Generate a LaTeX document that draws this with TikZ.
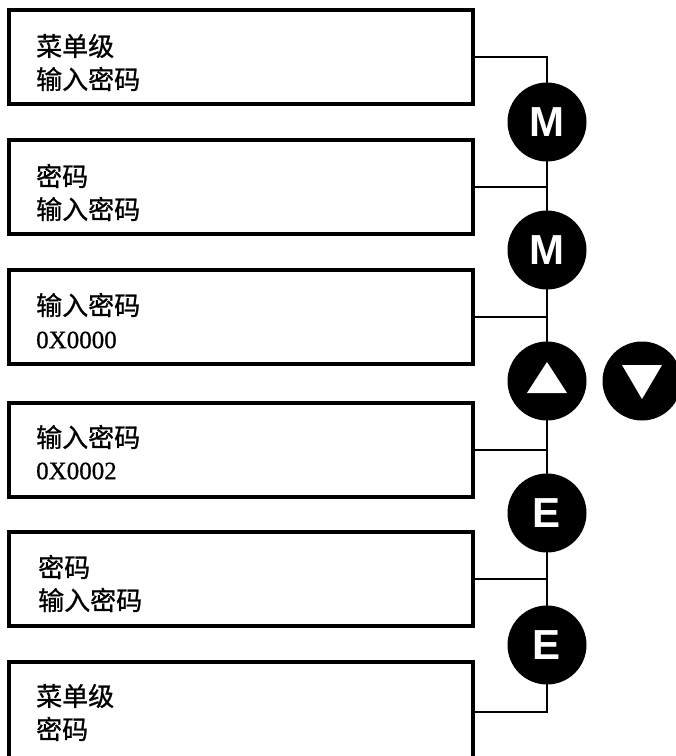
\documentclass[tikz,border=0pt]{standalone}
\usepackage{fontspec}
\setmainfont{Noto Sans CJK SC}[FakeBold=0.9]
\newfontfamily\latinserif{Liberation Serif}[FakeBold=0.6]
\newfontfamily\btnfont{Liberation Sans}
\begin{document}
\begin{tikzpicture}[x=1pt,y=-1pt,
  box/.style={draw=black,line width=3.2pt,minimum width=464pt,minimum height=94pt,inner sep=0pt},
  txt/.style={anchor=west,inner sep=0pt,font=\fontsize{26}{30}\selectfont,align=left},
  hex/.style={anchor=west,inner sep=0pt,font=\latinserif\fontsize{25}{28}\selectfont},
  btn/.style={circle,fill=black,minimum size=79pt,inner sep=0pt,text=white,font=\btnfont\bfseries\fontsize{42}{42}\selectfont},
  wire/.style={line width=2.6pt,black}]
\useasboundingbox (0,0) rectangle (676,756);
\clip (0,0) rectangle (676,756);
% boxes
\node[box] (b1) at (241,57) {};
\node[box] (b2) at (241,187) {};
\node[box] (b3) at (241,317) {};
\node[box] (b4) at (241,450) {};
\node[box] (b5) at (241,579) {};
\node[box,minimum height=100pt] (b6) at (241,712) {};
% texts
\node[txt] (t1a) at (36,46) {菜单级};
\node[txt] (t1b) at (36,79) {输入密码};
\node[txt] (t2a) at (36,176) {密码};
\node[txt] (t2b) at (36,209) {输入密码};
\node[txt] (t3a) at (36,305) {输入密码};
\node[hex] (t3b) at (36,340) {0X0000};
\node[txt] (t4a) at (36,437) {输入密码};
\node[hex] (t4b) at (36,471) {0X0002};
\node[txt] (t5a) at (38,567) {密码};
\node[txt] (t5b) at (38,600) {输入密码};
\node[txt] (t6a) at (36,696) {菜单级};
\node[txt] (t6b) at (36,729) {密码};
% button positions
\coordinate (cm1) at (547,122);
\coordinate (cm2) at (547,250);
\coordinate (cup) at (547,381);
\coordinate (cdn) at (642,381);
\coordinate (ce1) at (547,513);
\coordinate (ce2) at (547,645);
% wires
\draw[wire] (b1.east) -- (b1.east -| cm1) -- (b6.east -| cm1) -- (b6.east);
\draw[wire] (b2.east) -- (b2.east -| cm1);
\draw[wire] (b3.east) -- (b3.east -| cm1);
\draw[wire] (b4.east) -- (b4.east -| cm1);
\draw[wire] (b5.east) -- (b5.east -| cm1);
% buttons
\node[btn] (m1) at (cm1) {M};
\node[btn] (m2) at (cm2) {M};
\node[btn] (up) at (cup) {};
\node[btn] (dn) at (cdn) {};
\node[btn] (e1) at (ce1) {E};
\node[btn] (e2) at (ce2) {E};
\fill[white] ([shift={(0,-19)}]up.center) -- ([shift={(-20,12)}]up.center) -- ([shift={(20,12)}]up.center) -- cycle;
\fill[white] ([shift={(-20,-16)}]dn.center) -- ([shift={(20,-16)}]dn.center) -- ([shift={(0,18)}]dn.center) -- cycle;
\end{tikzpicture}
\end{document}
